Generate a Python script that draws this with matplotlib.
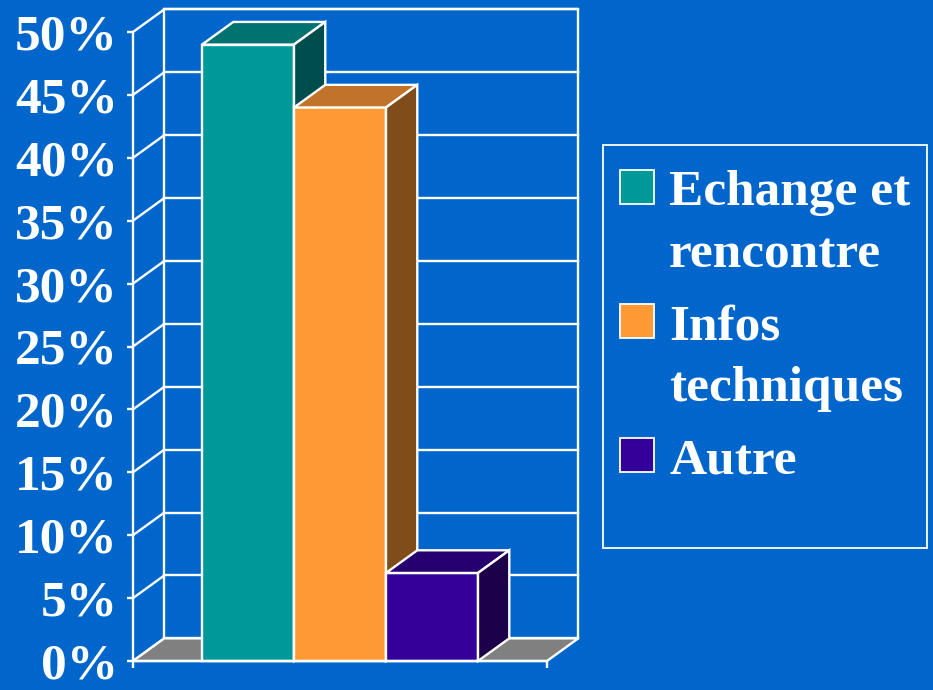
import matplotlib
matplotlib.use("Agg")
import matplotlib.pyplot as plt
from matplotlib.patches import Polygon, Rectangle

# data
categories = ["Echange et\nrencontre", "Infos\ntechniques", "Autre"]
values = [49, 44, 7]
tick_values = [0, 5, 10, 15, 20, 25, 30, 35, 40, 45, 50]
tick_labels = [str(v) + "%" for v in tick_values]

front_colors = ["#009999", "#FF9933", "#330099"]
top_colors = ["#00726F", "#C07329", "#27006F"]
side_colors = ["#004D4D", "#804D1A", "#1C004A"]
bg = "#0066CC"
white = "white"

plt.rcParams["font.family"] = ["Liberation Serif", "DejaVu Serif"]
plt.rcParams["font.weight"] = "bold"

fig = plt.figure(figsize=(9.33, 6.9), dpi=100, facecolor=bg)
ax = fig.add_axes([133 / 933, 29 / 690, 414 / 933, 629 / 690])
ax.set_facecolor("none")
ax.set_xlim(0, 4.5)
ax.set_ylim(0, 50)

DX, DY = 0.34, 1.8  # depth of the 3d look
lw = 1.7
xmax = 4.5

# back wall
ax.plot([DX, DX, xmax + DX, xmax + DX], [DY, 50 + DY, 50 + DY, DY],
        color=white, lw=lw, clip_on=False, zorder=1)
for v in tick_values:
    ax.plot([DX, xmax + DX], [v + DY, v + DY], color=white, lw=lw, clip_on=False, zorder=1)
    ax.plot([0, DX], [v, v + DY], color=white, lw=lw, clip_on=False, zorder=1)

# floor
ax.add_patch(Polygon([(0, 0), (xmax, 0), (xmax + DX, DY), (DX, DY)], closed=True,
                     facecolor="#808080", edgecolor=white, lw=lw, clip_on=False, zorder=2))

# bars
x_left = [0.75 + i for i in range(len(values))]
for i, v in enumerate(values):
    x0 = x_left[i]
    x1 = x0 + 1
    z = 3 + i
    ax.bar(x0, v, width=1, align="edge", color=front_colors[i], edgecolor=white,
           lw=lw, zorder=z, clip_on=False)
    ax.add_patch(Polygon([(x0, v), (x1, v), (x1 + DX, v + DY), (x0 + DX, v + DY)],
                         closed=True, facecolor=top_colors[i], edgecolor=white, lw=lw,
                         clip_on=False, zorder=z))
    ax.add_patch(Polygon([(x1, 0), (x1, v), (x1 + DX, v + DY), (x1 + DX, DY)],
                         closed=True, facecolor=side_colors[i], edgecolor=white, lw=lw,
                         clip_on=False, zorder=z))

# axes
for s in ["top", "right"]:
    ax.spines[s].set_visible(False)
for s in ["left", "bottom"]:
    ax.spines[s].set_color(white)
    ax.spines[s].set_linewidth(lw)
    ax.spines[s].set_zorder(10)
ax.set_yticks(tick_values)
ax.set_yticklabels(tick_labels)
ax.set_xticks([0, xmax])
ax.set_xticklabels([])
ax.tick_params(axis="y", colors=white, length=4.5, width=lw, pad=6.5, labelsize=37)
ax.tick_params(axis="x", colors=white, length=5, width=lw)
for lab in ax.get_yticklabels():
    lab.set_fontweight("bold")

# legend, drawn by hand to keep the square on the first line
fig.patches.append(Rectangle((603 / 933, 1 - 548 / 690), 324 / 933, 403 / 690,
                             transform=fig.transFigure, facecolor="none",
                             edgecolor=white, lw=1.3))
square_tops = [170, 304, 438]
for i, lab in enumerate(categories):
    top = square_tops[i]
    fig.patches.append(Rectangle((620 / 933, 1 - (top + 34) / 690), 34 / 933, 34 / 690,
                                 transform=fig.transFigure, facecolor=front_colors[i],
                                 edgecolor=white, lw=1.3))
    for j, line in enumerate(lab.split("\n")):
        fig.text(669 / 933, 1 - (top + 35 + 62 * j) / 690, line, color=white,
                 fontsize=37, fontweight="bold", ha="left", va="baseline")

fig.savefig("out.png", dpi=100, facecolor=bg)
